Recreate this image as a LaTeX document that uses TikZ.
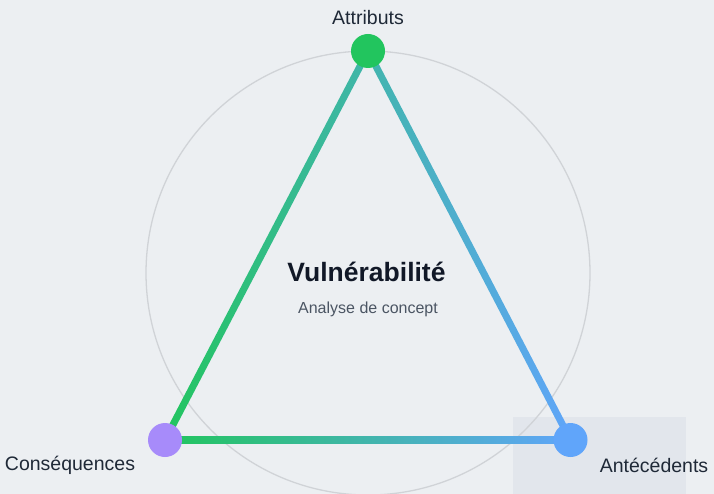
\documentclass[tikz,border=0pt]{standalone}
\usepackage{fontspec}
\setmainfont{Liberation Sans}
\usetikzlibrary{calc}
\definecolor{bg}{HTML}{ECEFF2}
\definecolor{panel}{HTML}{E2E6EC}
\definecolor{ringc}{HTML}{D0D3D7}
\definecolor{gA}{HTML}{22C55E}
\definecolor{bA}{HTML}{60A5FA}
\definecolor{pA}{HTML}{A78BFA}
\definecolor{txt}{HTML}{1F2937}
\definecolor{titlec}{HTML}{111827}
\definecolor{subc}{HTML}{4B5563}
\tikzset{
  vertex/.style={circle, inner sep=0pt, minimum size=34pt},
  lbl/.style={text=txt, font=\fontsize{19.5}{23}\selectfont, inner sep=0pt},
  ring/.style={draw=ringc, line width=1.3pt},
}
\newcommand{\gedge}[4]{%
  \shade[left color=#3, right color=#4]
    ($(#1.center)!3.5pt!90:(#2.center)$) -- ($(#2.center)!3.5pt!-90:(#1.center)$) --
    ($(#2.center)!3.5pt!90:(#1.center)$) -- ($(#1.center)!3.5pt!-90:(#2.center)$) -- cycle;}
\begin{document}
\begin{tikzpicture}[x=1pt,y=-1pt]
\fill[bg] (0,0) rectangle (714,494);
\useasboundingbox (0,0) rectangle (714,494);
\fill[panel] (513,417) rectangle (686,494);
\draw[ring] (368,273) circle[radius=222pt];
\node[vertex] (attr) at (368,51) {};
\node[vertex] (cons) at (165,440) {};
\node[vertex] (ante) at (570.5,440) {};
\gedge{cons}{attr}{gA}{gA!50!bA}
\gedge{attr}{ante}{gA!50!bA}{bA}
\gedge{cons}{ante}{gA}{bA}
\fill[gA] (attr) circle[radius=17pt];
\fill[pA] (cons) circle[radius=17pt];
\fill[bA] (ante) circle[radius=17pt];
\node[lbl] (lattr) at (368,18) {Attributs};
\node[lbl] (lcons) at (70,465) {Conséquences};
\node[lbl] (lante) at (654,465) {Antécédents};
\node[text=titlec, font=\bfseries\fontsize{26.5}{30}\selectfont, inner sep=0pt] (title) at (366.5,272) {Vulnérabilité};
\node[text=subc, font=\fontsize{16}{19}\selectfont, inner sep=0pt] (sub) at (368,309) {Analyse de concept};
\end{tikzpicture}
\end{document}
